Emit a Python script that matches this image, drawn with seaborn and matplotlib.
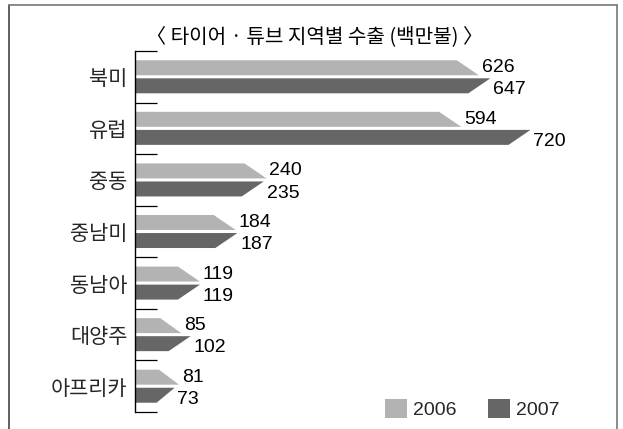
import numpy as np
import pandas as pd
import matplotlib
matplotlib.use('Agg')
import matplotlib.pyplot as plt
from matplotlib.patches import Polygon, Patch
from matplotlib.lines import Line2D
import seaborn as sns

# data
TITLE = '〈 타이어 · 튜브 지역별 수출 (백만불) 〉'
REGIONS = ['북미', '유럽', '중동', '중남미', '동남아', '대양주', '아프리카']
YEARS = ['2006', '2007']
VALUES_2006 = [626, 594, 240, 184, 119, 85, 81]
VALUES_2007 = [647, 720, 235, 187, 119, 102, 73]

# style constants
COLORS = {'2006': '#b3b3b3', '2007': '#666666'}
KR_FONT = ['Noto Sans CJK KR', 'DejaVu Sans']
NUM_FONT = ['Liberation Sans', 'DejaVu Sans']
XMAX = 870
TIP = 40  # length of the slanted bar end, data units
W, H = 623, 429


def build_frame():
    rows = []
    for region, a, b in zip(REGIONS, VALUES_2006, VALUES_2007):
        rows.append({'region': region, 'year': YEARS[0], 'value': a})
        rows.append({'region': region, 'year': YEARS[1], 'value': b})
    return pd.DataFrame(rows)


def slant_bars(ax):
    # swap seaborn's rectangles for arrow-ended polygons
    for p in list(ax.patches):
        x0, y0 = p.get_x(), p.get_y()
        w, h = p.get_width(), p.get_height()
        y1 = y0 + h
        s = min(TIP, 0.45 * w)
        yc = y0 + h / 2
        top = yc < round(yc)
        if top:
            pts = [(x0, y0), (x0 + w - s, y0), (x0 + w, y1), (x0, y1)]
        else:
            pts = [(x0, y0), (x0 + w, y0), (x0 + w - s, y1), (x0, y1)]
        poly = Polygon(pts, closed=True, facecolor=p.get_facecolor(),
                       edgecolor='none', zorder=2)
        p.remove()
        ax.add_patch(poly)


def main():
    df = build_frame()
    sns.set_style('white')
    fig = plt.figure(figsize=(W / 100, H / 100), dpi=100)
    ax = fig.add_axes([134.5 / W, 1 - 412 / H, (613 - 134.5) / W, (412 - 51) / H])

    sns.barplot(data=df, y='region', x='value', hue='year', orient='h',
                palette=COLORS, width=0.7, gap=0.17, legend=False,
                saturation=1, ax=ax)
    slant_bars(ax)

    ax.set_xlim(0, XMAX)
    ax.set_ylim(6.5, -0.5)
    ax.set_xlabel('')
    ax.set_ylabel('')
    ax.set_xticks([])
    for side in ['top', 'right', 'bottom']:
        ax.spines[side].set_visible(False)
    ax.spines['left'].set_color('black')
    ax.spines['left'].set_linewidth(1.0)

    ax.set_yticks(range(len(REGIONS)))
    ax.set_yticklabels(REGIONS, family=KR_FONT, fontsize=15)
    ax.set_yticks(np.arange(-0.5, len(REGIONS), 1), minor=True)
    ax.tick_params(axis='y', which='major', length=0, pad=5)
    ax.tick_params(axis='y', which='minor', direction='in', length=16,
                   width=0.9, color='black', left=True)

    # value labels
    for i, (a, b) in enumerate(zip(VALUES_2006, VALUES_2007)):
        ax.annotate(str(a), xy=(a, i - 0.175), xytext=(2, 0),
                    textcoords='offset points', ha='left', va='center',
                    family=NUM_FONT, fontsize=14, color='black')
        ax.annotate(str(b), xy=(b, i + 0.175), xytext=(2, -3),
                    textcoords='offset points', ha='left', va='center',
                    family=NUM_FONT, fontsize=14, color='black')

    # title
    fig.text(315 / W, 1 - 37 / H, TITLE, ha='center', va='center',
             family=KR_FONT, fontsize=14.5, color='black')

    # legend
    handles = [Patch(facecolor=COLORS[y], edgecolor='none') for y in YEARS]
    fig.legend(handles, YEARS, loc='lower left',
               bbox_to_anchor=(385 / W, 1 - 419 / H), ncol=2, frameon=False,
               prop={'family': NUM_FONT, 'size': 14}, handlelength=1.15,
               handleheight=1.15, handletextpad=0.3, columnspacing=1.6,
               borderpad=0, borderaxespad=0)

    # outer frame (no bottom edge)
    fl, fr, ft = 9 / W, 617 / W, 1 - 4.5 / H
    fig.add_artist(Line2D([fl, fl], [-0.1, ft], transform=fig.transFigure,
                          color='#444444', lw=1.2))
    fig.add_artist(Line2D([fl, fr], [ft, ft], transform=fig.transFigure,
                          color='#777777', lw=1.2))
    fig.add_artist(Line2D([fr, fr], [ft, -0.1], transform=fig.transFigure,
                          color='#777777', lw=1.2))

    fig.savefig('out.png', dpi=100, facecolor='white')


if __name__ == '__main__':
    main()
